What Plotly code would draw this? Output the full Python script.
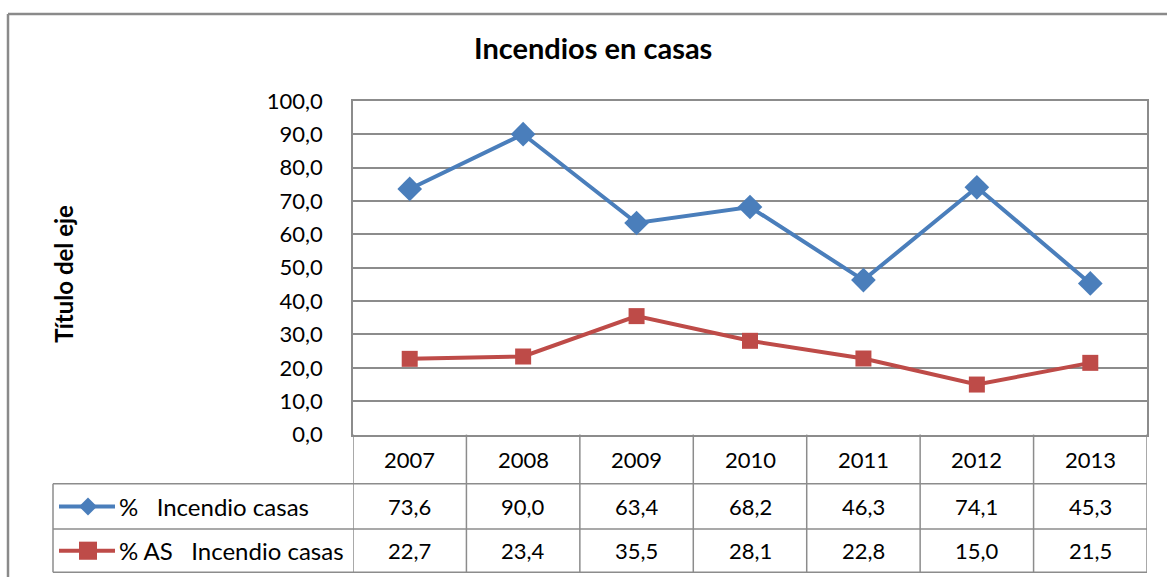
import plotly.graph_objects as go

# Data
years = ["2007", "2008", "2009", "2010", "2011", "2012", "2013"]
incendio_casas = [73.6, 90.0, 63.4, 68.2, 46.3, 74.1, 45.3]
as_incendio_casas = [22.7, 23.4, 35.5, 28.1, 22.8, 15.0, 21.5]
series_names = ["%   Incendio casas", "% AS   Incendio casas"]
y_ticks = [0, 10, 20, 30, 40, 50, 60, 70, 80, 90, 100]

W, H = 1167, 600
SY, OY = 0.95, 13.6        # vertical placement of the page in the viewport
BLUE = "#4A7EBB"
RED = "#BE4B48"
GRID = "#8C8C8C"
FONT = "Lato"
TXT = 22

# Layout geometry in pixels
PL, PR, PT, PB = 353, 1147, 100, 432      # plot area
ROW_LINES = [481, 526, 569]               # table row separators
TABLE_LEFT = 53


def px(x):
    return x / W


def py(y):
    return 1 - ((y - OY) / SY) / H


def fmt(v):
    return f"{v:.1f}".replace(".", ",")


def label(x, y, text, size=TXT, xref="paper", xanchor="center", **kw):
    return dict(x=x, y=y, xref=xref, yref="paper", text=text, showarrow=False,
                xanchor=xanchor, yanchor="middle", font=dict(size=size, color="#000"), **kw)


fig = go.Figure()

series = [(incendio_casas, BLUE, "diamond", 19), (as_incendio_casas, RED, "square", 16)]
for (vals, color, symbol, size), name in zip(series, series_names):
    fig.add_trace(go.Scatter(
        x=list(range(len(years))), y=vals, name=name, mode="lines+markers",
        line=dict(color=color, width=4),
        marker=dict(symbol=symbol, size=size, color=color),
        cliponaxis=False, showlegend=False,
    ))

shapes = []
annotations = []

# outer chart border (left and top edges visible)
shapes.append(dict(type="line", xref="paper", yref="paper",
                   x0=px(8), x1=px(8), y0=1, y1=0,
                   line=dict(color="#8A8A8A", width=2.5)))
shapes.append(dict(type="line", xref="paper", yref="paper",
                   x0=px(8), x1=1, y0=1, y1=1,
                   line=dict(color="#8A8A8A", width=2.5)))

# data table: vertical lines at category boundaries
for i in range(len(years) + 1):
    shapes.append(dict(type="line", xref="x", yref="paper",
                       x0=i - 0.5, x1=i - 0.5, y0=py(PB), y1=py(ROW_LINES[-1]),
                       line=dict(color=GRID, width=1.5)))
# horizontal row lines
for yl in ROW_LINES:
    shapes.append(dict(type="line", xref="paper", yref="paper",
                       x0=px(TABLE_LEFT), x1=px(PR), y0=py(yl), y1=py(yl),
                       line=dict(color=GRID, width=1.5)))
shapes.append(dict(type="line", xref="paper", yref="paper",
                   x0=px(TABLE_LEFT), x1=px(TABLE_LEFT), y0=py(ROW_LINES[0]), y1=py(ROW_LINES[-1]),
                   line=dict(color=GRID, width=1.5)))

# header row (years)
header_y = (PB + ROW_LINES[0]) / 2
for i, yr in enumerate(years):
    annotations.append(label(i, py(header_y), yr, xref="x"))

# value rows with legend keys
for r, ((vals, color, symbol, size), name) in enumerate(zip(series, series_names)):
    y0, y1 = ROW_LINES[r], ROW_LINES[r + 1]
    yc = (y0 + y1) / 2
    for i, v in enumerate(vals):
        annotations.append(label(i, py(yc), fmt(v), xref="x"))
    # legend key: line with marker
    shapes.append(dict(type="line", xref="paper", yref="paper",
                       x0=px(59), x1=px(115), y0=py(yc), y1=py(yc),
                       line=dict(color=color, width=4)))
    cx = 88
    d = 9
    if symbol == "diamond":
        path = (f"M {px(cx - d)},{py(yc)} L {px(cx)},{py(yc - d)} "
                f"L {px(cx + d)},{py(yc)} L {px(cx)},{py(yc + d)} Z")
    else:
        path = (f"M {px(cx - d)},{py(yc - d)} L {px(cx + d)},{py(yc - d)} "
                f"L {px(cx + d)},{py(yc + d)} L {px(cx - d)},{py(yc + d)} Z")
    shapes.append(dict(type="path", xref="paper", yref="paper", path=path,
                       fillcolor=color, line=dict(color=color, width=0)))
    annotations.append(label(px(117), py(yc), name, size=24, xanchor="left"))

# title and axis title
annotations.append(label(px(593), py(47), "<b>Incendios en casas</b>", size=29))
annotations.append(label(px(64), py(272), "<b>Título del eje</b>", size=24, textangle=-90))

fig.update_layout(
    width=W, height=H,
    margin=dict(l=0, r=0, t=0, b=0),
    paper_bgcolor="white", plot_bgcolor="white",
    separators=",.",
    font=dict(family=FONT, color="#000"),
    shapes=shapes, annotations=annotations,
    xaxis=dict(domain=[px(PL), px(PR)], range=[-0.5, len(years) - 0.5],
               showticklabels=False, showgrid=False, zeroline=False,
               showline=True, linecolor=GRID, linewidth=1.5, mirror=True, ticks=""),
    yaxis=dict(domain=[py(PB), py(PT)], range=[0, 100], tickvals=y_ticks,
               tickformat=".1f", tickfont=dict(size=TXT, color="#000"),
               showgrid=True, gridcolor=GRID, gridwidth=1.5, zeroline=False,
               showline=True, linecolor=GRID, linewidth=1.5, mirror=True,
               ticks="", ticklabelstandoff=24),
)

fig.write_html("out.html")
